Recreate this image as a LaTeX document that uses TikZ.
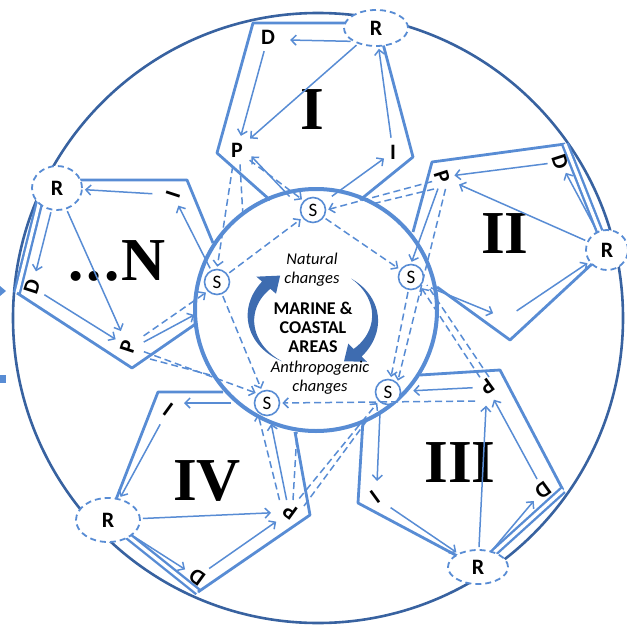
\documentclass[tikz,border=0pt]{standalone}
\usepackage{fontspec}
\setmainfont{Carlito}
\newfontfamily\romanfont{Liberation Serif}
\usetikzlibrary{arrows.meta,shapes.geometric}
\definecolor{pblue}{RGB}{88,140,212}
\definecolor{oblue}{RGB}{56,98,160}
\definecolor{cblue}{RGB}{62,108,176}
\begin{document}
\begin{tikzpicture}[x=1pt,y=-1pt,
  pedge/.style={draw=pblue,line width=2.8pt,line join=round},
  dedge/.style={draw=pblue,line width=2.4pt,double=white,double distance=3.2pt},
  arr/.style={draw=pblue,line width=1.5pt,shorten >=2pt,shorten <=2pt,-{Straight Barb[length=5pt,width=10pt]}},
  darr/.style={arr,dash pattern=on 7pt off 4pt},
  dl/.style={draw=pblue,line width=1.5pt,dash pattern=on 7pt off 4pt},
  snode/.style={circle,draw=pblue,line width=1.6pt,fill=white,minimum size=25pt,inner sep=0pt,font=\fontsize{19}{19}\selectfont},
  rnode/.style={ellipse,draw=pblue,line width=1.8pt,dash pattern=on 6pt off 4pt,fill=white,inner sep=0pt,font=\bfseries\fontsize{22}{22}\selectfont},
  lab/.style={inner sep=1pt,font=\bfseries\fontsize{22}{22}\selectfont},
  roman/.style={anchor=base,inner sep=0pt,font=\romanfont\bfseries\fontsize{61}{61}\selectfont},
  cfill/.style={fill=cblue}
]
\useasboundingbox (0,0) rectangle (626,631);
% outer circle
\draw[oblue,line width=2.6pt] (318,318) circle[radius=305];
% edge marks on the left
\fill[pblue] (0,286) -- (6,291) -- (0,296) -- cycle;
\fill[pblue] (0,375) rectangle (6,383);

% pentagon I
\draw[pedge] (360,23) -- (253,23) -- (217,153) -- (270,200);
\draw[pedge] (382,40) -- (413,157) -- (360,200);
% pentagon II
\draw[pedge] (413,232) -- (432,162) -- (565,144);
\draw[dedge] (565,144) -- (607,250);
\draw[pedge] (607,250) -- (510,340) -- (437,287);
% pentagon III
\draw[pedge] (420,375) -- (500,370) -- (563,490);
\draw[dedge] (563,490) -- (478,567);
\draw[pedge] (478,567) -- (358,503) -- (363,420);
% pentagon IV
\draw[pedge] (223,392) -- (158,392) -- (108,520);
\draw[dedge] (108,520) -- (198,592);
\draw[pedge] (198,592) -- (310,515) -- (295,432);
% pentagon N
\draw[pedge] (57,180) -- (187,180) -- (213,243);
\draw[dedge] (40,200) -- (17,293);
\draw[pedge] (17,293) -- (132,368) -- (197,323);

% inner ring
\draw[pblue,line width=4pt] (316,310) circle[radius=121];

% free ends on the ring
\coordinate (k1) at (243,217);
\coordinate (k2) at (372,204);
\coordinate (k4) at (297,432);
\coordinate (k5) at (368,419);
\coordinate (k6) at (196,314);
\coordinate (k7) at (214,376);
\coordinate (I2) at (505,314);

% S nodes
\node[snode] (St) at (313,210) {S};
\node[snode] (Sr) at (411,277) {S};
\node[snode] (Sbr) at (388,392) {S};
\node[snode] (Sbl) at (267,403) {S};
\node[snode] (Sl) at (217,282) {S};

% R nodes
\node[rnode,minimum width=64pt,minimum height=36pt] (R1) at (376,28) {R};
\node[rnode,minimum width=42pt,minimum height=40pt] (R2) at (607,250) {R};
\node[rnode,minimum width=60pt,minimum height=34pt] (R3) at (478,567) {R};
\node[rnode,minimum width=64pt,minimum height=44pt] (R4) at (108,520) {R};
\node[rnode,minimum width=50pt,minimum height=44pt] (R5) at (57,188) {R};

% letters
\node[lab] (D1) at (268,37) {D};
\node[lab] (P1) at (237,150) {P};
\node[lab] (I1) at (393,152) {I};
\node[lab,rotate=-72] (D2) at (560,162) {D};
\node[lab,rotate=-72] (P2) at (442,177) {P};
\node[lab,rotate=-144] (P3) at (487,387) {P};
\node[lab,rotate=-144] (D3) at (543,490) {D};
\node[lab,rotate=-144] (I3) at (375,497) {I};
\node[lab,rotate=144] (I4) at (168,410) {I};
\node[lab,rotate=144] (D4) at (197,577) {D};
\node[lab,rotate=144] (P4) at (290,512) {P};
\node[lab,rotate=72] (I5) at (173,195) {I};
\node[lab,rotate=72] (D5) at (32,287) {D};
\node[lab,rotate=72] (P5) at (128,347) {P};

% roman numerals
\node[roman] (n1) at (312,130) {I};
\node[roman] (n2) at (505,253) {II};
\node[roman] (n3) at (460,482) {III};
\node[roman] (n4) at (207,500) {IV};
\node[roman] (n5) at (117,280) {.\kern3pt.\kern3pt.\kern2pt N};

% centre: two tapered curved arrows
\fill[cfill] plot[domain=120:221,samples=40] ({313+(62+5.5*(\x-120)/101)*cos(\x)},{318+(50+5.5*(\x-120)/101)*sin(\x)})
  -- ({313+75*cos(221)},{318+63*sin(221)})
  -- ({313+62*cos(238)},{318+50*sin(238)})
  -- ({313+49*cos(221)},{318+37*sin(221)})
  -- plot[domain=221:120,samples=40] ({313+(62-5.5*(\x-120)/101)*cos(\x)},{318+(50-5.5*(\x-120)/101)*sin(\x)})
  -- cycle;
\fill[cfill] plot[domain=-52:44,samples=40] ({313+(62+5.5*(\x+52)/96)*cos(\x)},{318+(50+5.5*(\x+52)/96)*sin(\x)})
  -- ({313+75*cos(44)},{318+63*sin(44)})
  -- ({313+62*cos(60)},{318+50*sin(60)})
  -- ({313+49*cos(44)},{318+37*sin(44)})
  -- plot[domain=44:-52,samples=40] ({313+(62-5.5*(\x+52)/96)*cos(\x)},{318+(50-5.5*(\x+52)/96)*sin(\x)})
  -- cycle;
\node[font=\bfseries\fontsize{18}{19}\selectfont,align=center] (ctr) at (313,327) {MARINE \&\\COASTAL\\AREAS};
\node[font=\itshape\fontsize{16.5}{19}\selectfont,align=center] (nat) at (312,270) {Natural\\changes};
\node[font=\itshape\fontsize{16.5}{19}\selectfont,align=center] (anth) at (320,378) {Anthropogenic\\changes};

% inner dashed cycle
\draw[darr] (Sl) -- (St);
\draw[darr] (St) -- (Sr);
\draw[darr] (Sr) -- (Sbr);
\draw[darr] (Sl) -- (Sbl);

% pentagon I arrows
\draw[arr] (R1.south west) -- ([shift={(12,3)}]D1.east);
\draw[arr,shorten <=6pt,shorten >=6pt] (D1) -- (P1);
\draw[arr,shorten >=8pt] (R1) -- (P1);
\draw[arr,shorten <=6pt] (I1) -- (R1);
\draw[arr,shorten <=10pt,shorten >=6pt] (St) -- (I1);
\draw[arr] ([shift={(-22,-12)}]St.center) -- ([shift={(6,5)}]P1.east);
\draw[darr] ([shift={(4,9)}]P1.east) -- (St.north west);
\draw[darr] ([shift={(-4,6)}]P1.south) -- (Sl.north);
\draw[dl] ([shift={(3,6)}]P1.south) -- (k1);

% pentagon II arrows
\draw[arr,shorten <=4pt,shorten >=4pt] (D2) -- (P2);
\draw[arr,shorten >=8pt] (R2) -- (P2);
\draw[arr,shorten >=4pt] (R2) -- (D2);
\draw[arr] ([shift={(18,10)}]Sr.center) -- ([shift={(-10,0)}]I2);
\draw[arr] ([shift={(10,-2)}]I2) -- (R2);
\draw[arr,shorten <=6pt] ([shift={(-2,6)}]P2.center) -- (Sr.north);
\draw[darr] ([shift={(-8,4)}]P2.center) -- (St.east);
\draw[dl] ([shift={(-8,12)}]P2.center) -- (k2);
\draw[darr] ([shift={(4,10)}]P2.center) -- (Sbr.north east);
\draw[darr] ([shift={(-6,-8)}]P3.center) -- (Sr.south east);
\draw[dl] ([shift={(2,-10)}]P3.center) -- ([shift={(16,8)}]Sr.center);

% pentagon III arrows
\draw[arr,shorten <=6pt,shorten >=12pt] (P3) -- (Sbr);
\draw[arr] ([shift={(-8,20)}]Sbr.center) -- ([shift={(2,-14)}]I3.center);
\draw[arr,shorten <=10pt] (I3) -- (R3);
\draw[arr,shorten >=8pt] (R3) -- (P3);
\draw[arr,shorten >=6pt] (R3) -- (D3);
\draw[arr,shorten <=4pt,shorten >=6pt] (D3) -- (P3);
\draw[darr] ([shift={(-10,14)}]P3.center) -- (Sbl.east);

% pentagon IV arrows
\draw[arr] ([xshift=-34pt]Sbl.center) -- ([shift={(14,-7)}]I4.center);
\draw[arr,shorten <=8pt] (I4) -- (R4);
\draw[arr,shorten >=10pt] (R4) -- (P4);
\draw[arr,shorten >=6pt] (R4) -- (D4);
\draw[arr,shorten <=6pt,shorten >=8pt] (D4) -- (P4);
\draw[arr,shorten >=8pt] ([shift={(-3,-10)}]P4.center) -- (Sbl);
\draw[darr] ([shift={(-10,-10)}]P4.center) -- (Sbl.south west);
\draw[dl] ([shift={(3,-12)}]P4.center) -- (k4);
\draw[darr] ([shift={(8,-12)}]P4.center) -- (Sbr.south west);
\draw[dl] ([shift={(14,-6)}]P4.center) -- (k5);

% pentagon N arrows
\draw[arr,shorten <=12pt] (I5) -- (R5);
\draw[arr,shorten >=6pt] (Sl) -- (I5);
\draw[arr,shorten >=8pt] (R5) -- (D5);
\draw[arr,shorten <=6pt,shorten >=6pt] (D5) -- (P5);
\draw[arr,shorten >=8pt] (R5) -- (P5);
\draw[arr] ([shift={(14,-4)}]P5.center) -- (k6);
\draw[darr] ([shift={(14,-10)}]P5.center) -- (Sl.south west);
\draw[darr] ([shift={(14,4)}]P5.center) -- (Sbl.north west);
\draw[dl] ([shift={(22,12)}]P5.center) -- (k7);
\end{tikzpicture}
\end{document}
